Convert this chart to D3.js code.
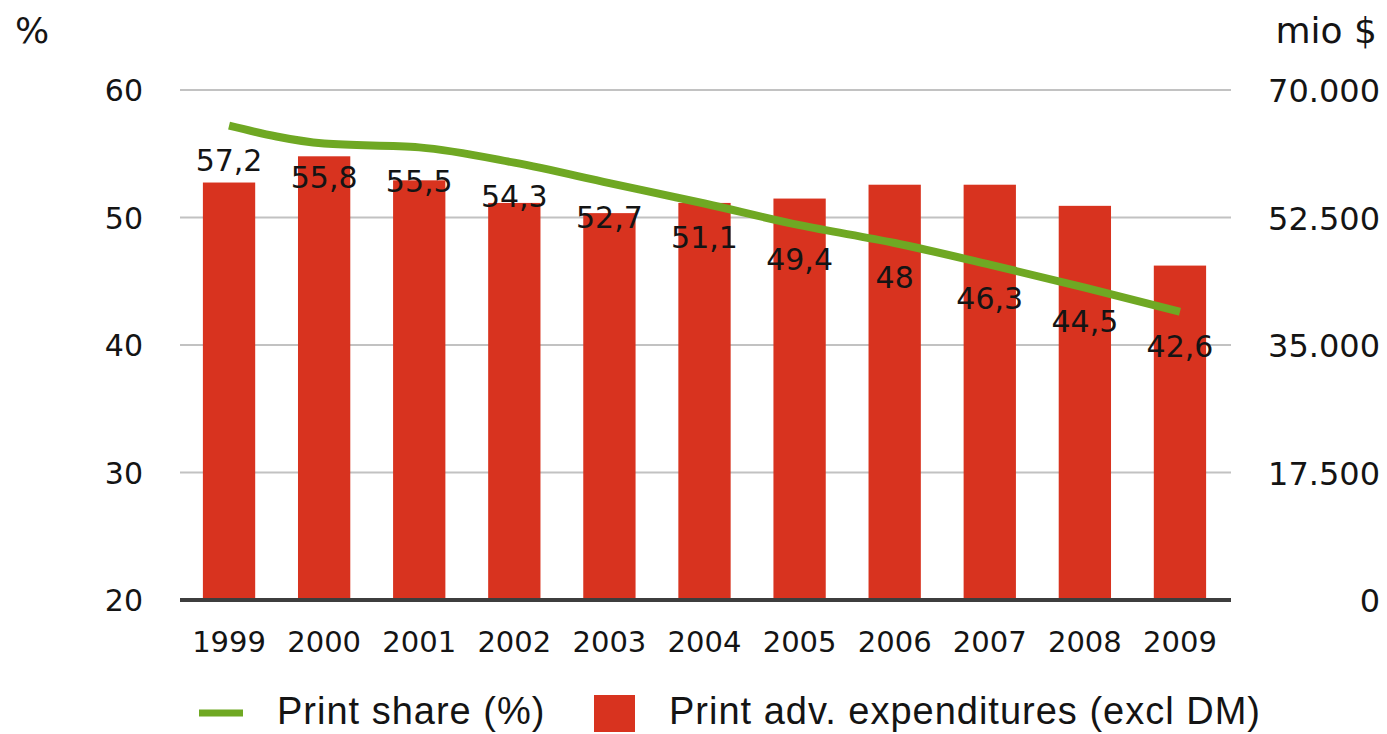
<!DOCTYPE html>
<html>
<head>
<meta charset="utf-8">
<script src="https://cdn.jsdelivr.net/npm/d3@7"></script>
<style>
  html, body { margin: 0; padding: 0; background: #ffffff; }
  svg { display: block; }
</style>
</head>
<body>
<svg id="chart" width="1387" height="734"></svg>
<script>
const years = ["1999","2000","2001","2002","2003","2004","2005","2006","2007","2008","2009"];
const printShare = [57.2, 55.8, 55.5, 54.3, 52.7, 51.1, 49.4, 48, 46.3, 44.5, 42.6];
const printExpenditures = [57300, 60900, 57600, 54500, 53100, 54500, 55100, 57000, 57000, 54100, 45900];
const leftTicks = [20, 30, 40, 50, 60];
const rightTicks = [0, 17500, 35000, 52500, 70000];
const seriesNames = ["Print share (%)", "Print adv. expenditures (excl DM)"];
const leftUnit = "%";
const rightUnit = "mio $";

const svg = d3.select("#chart");
const numFont = "DejaVu Sans, Verdana, sans-serif";
const legFont = "Liberation Sans, Arial, sans-serif";
const textColor = "#141414";
const red = "#d8331f";
const green = "#6fa823";

const plotTop = 90, plotBottom = 600, plotLeft = 180, plotRight = 1231;

const x = d3.scaleBand().domain(years).range([181.5, 1227.5]).paddingInner(0.45).paddingOuter(0.225);
const yL = d3.scaleLinear().domain([20, 60]).range([plotBottom, plotTop]);
const yR = d3.scaleLinear().domain([0, 70000]).range([plotBottom, plotTop]);

// gridlines
const grid = svg.append("g");
grid.selectAll("line").data(leftTicks.filter(t => t !== 20)).join("line")
  .attr("x1", plotLeft).attr("x2", plotRight)
  .attr("y1", d => yL(d)).attr("y2", d => yL(d))
  .attr("stroke", "#c2c2c2").attr("stroke-width", 2);

// bars
svg.append("g").selectAll("rect").data(years).join("rect")
  .attr("x", d => x(d))
  .attr("width", x.bandwidth())
  .attr("y", (d, i) => yR(printExpenditures[i]))
  .attr("height", (d, i) => yR(0) - yR(printExpenditures[i]))
  .attr("fill", red);

// baseline
svg.append("line")
  .attr("x1", plotLeft).attr("x2", plotRight)
  .attr("y1", yL(20)).attr("y2", yL(20))
  .attr("stroke", "#3d3d3d").attr("stroke-width", 4);

// left axis
const leftAxis = d3.axisLeft(yL).tickValues(leftTicks).tickSize(0).tickPadding(0).tickFormat(d3.format("d"));
const gL = svg.append("g").attr("transform", "translate(143,0)").call(leftAxis);
gL.select(".domain").remove();
gL.selectAll("text").attr("font-family", numFont).attr("font-size", 30).attr("fill", textColor).attr("dy", "0.36em");

// right axis
const fmtR = d => d3.format(",")(d).replace(/,/g, ".");
const rightAxis = d3.axisRight(yR).tickValues(rightTicks).tickSize(0).tickPadding(0).tickFormat(fmtR);
const gR = svg.append("g").attr("transform", "translate(1380,0)").call(rightAxis);
gR.select(".domain").remove();
gR.selectAll("text").attr("font-family", numFont).attr("font-size", 32).attr("fill", textColor)
  .attr("text-anchor", "end").attr("dy", "0.36em");

// x axis
const xAxis = d3.axisBottom(x).tickSize(0).tickPadding(0);
const gX = svg.append("g").attr("transform", "translate(0,652)").call(xAxis);
gX.select(".domain").remove();
gX.selectAll("text").attr("font-family", numFont).attr("font-size", 29).attr("fill", textColor).attr("dy", 0);

// units
svg.append("text").attr("x", 15).attr("y", 43).text(leftUnit)
  .attr("font-family", numFont).attr("font-size", 36).attr("fill", textColor);
svg.append("text").attr("x", 1377).attr("y", 43).attr("text-anchor", "end").text(rightUnit)
  .attr("font-family", numFont).attr("font-size", 36).attr("fill", textColor);

// line
const cx = d => x(d) + x.bandwidth() / 2;
const line = d3.line().x((d, i) => cx(years[i])).y(d => yL(d)).curve(d3.curveMonotoneX);
svg.append("path").datum(printShare)
  .attr("d", line).attr("fill", "none").attr("stroke", green).attr("stroke-width", 8).attr("stroke-linecap", "butt");

// data labels
const fmtPct = d => String(d).replace(".", ",");
svg.append("g").selectAll("text").data(printShare).join("text")
  .attr("x", (d, i) => cx(years[i]))
  .attr("y", d => yL(d) + 34)
  .attr("dy", "0.36em")
  .attr("text-anchor", "middle")
  .attr("font-family", numFont).attr("font-size", 30).attr("fill", textColor)
  .text(fmtPct);

// legend
const leg = svg.append("g");
leg.append("line").attr("x1", 199).attr("x2", 243).attr("y1", 713).attr("y2", 713)
  .attr("stroke", green).attr("stroke-width", 7);
leg.append("text").attr("x", 277).attr("y", 724).text(seriesNames[0])
  .attr("font-family", legFont).attr("font-size", 38).attr("letter-spacing", 1).attr("fill", textColor);
leg.append("rect").attr("x", 594).attr("y", 695).attr("width", 41).attr("height", 37).attr("fill", red);
leg.append("text").attr("x", 669).attr("y", 724).text(seriesNames[1])
  .attr("font-family", legFont).attr("font-size", 38).attr("letter-spacing", 1).attr("fill", textColor);
</script>
</body>
</html>
